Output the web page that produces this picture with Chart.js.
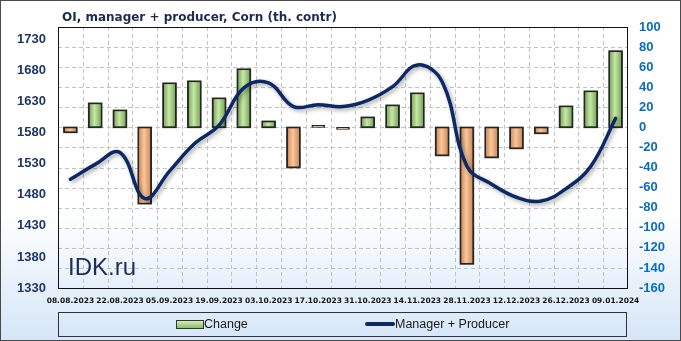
<!DOCTYPE html>
<html>
<head>
<meta charset="utf-8">
<title>OI, manager + producer, Corn (th. contr)</title>
<script src="https://cdn.jsdelivr.net/npm/chart.js@4/dist/chart.umd.min.js"></script>
<style>
    html, body { margin: 0; padding: 0; background: #ffffff; }
    #wrap {
        position: relative;
        width: 681px;
        height: 341px;
        overflow: hidden;
        background: linear-gradient(to bottom, #ffffff 0%, #ffffff 62%, #d5e6f8 100%);
    }
    #chart_corn { position: absolute; left: 0; top: 0; }
    #frame {
        position: absolute; left: 0; top: 0;
        width: 679px; height: 339px;
        border: 1px solid #4a4a4a;
        pointer-events: none;
    }
    #title {
        position: absolute; left: 62px; top: 9px;
        font: bold 12px "DejaVu Sans", sans-serif;
        line-height: 16px;
        color: #1b2b52;
        white-space: nowrap;
    }
    #watermark {
        position: absolute; left: 68px; top: 255px;
        font: 24px "Liberation Sans", sans-serif;
        line-height: 24px;
        color: #1c2d57;
    }
    #legend {
        position: absolute; left: 58px; top: 312px;
        width: 567px; height: 23px;
        border: 1px solid #333333;
        font: 12.5px "Liberation Sans", sans-serif;
        color: #1a1a1a;
    }
    #legend .sw_bar {
        position: absolute; left: 117px; top: 7px;
        width: 26px; height: 7px;
        border: 1px solid #333333;
        background: linear-gradient(to bottom, #d3ecb9, #8dbb6b);
    }
    #legend .sw_line {
        position: absolute; left: 306px; top: 9px;
        width: 30px; height: 4px;
        border-radius: 2px;
        background: #0c2866;
    }
    #legend .txt { position: absolute; top: 0; line-height: 22px; white-space: nowrap; }
</style>
</head>
<body>
<div id="wrap">
    <canvas id="chart_corn" width="681" height="341"></canvas>
    <div id="title">OI, manager + producer, Corn (th. contr)</div>
    <div id="watermark">IDK.ru</div>
    <div id="legend">
        <span class="sw_bar"></span><span class="txt" style="left:145px">Change</span>
        <span class="sw_line"></span><span class="txt" style="left:336px">Manager + Producer</span>
    </div>
    <div id="frame"></div>
</div>
<script>
const report_dates = [
    '08.08.2023', '15.08.2023', '22.08.2023', '29.08.2023', '05.09.2023', '12.09.2023',
    '19.09.2023', '26.09.2023', '03.10.2023', '10.10.2023', '17.10.2023', '24.10.2023',
    '31.10.2023', '07.11.2023', '14.11.2023', '21.11.2023', '28.11.2023', '05.12.2023',
    '12.12.2023', '19.12.2023', '26.12.2023', '02.01.2024', '09.01.2024',
];

// weekly change, th. contracts (right axis)
const change_values = [-5, 24, 17, -76, 44, 46, 29, 58, 6, -40, 2, -2, 10, 22, 34, -28, -136, -30, -21, -6, 21, 36, 76];

// open interest, manager + producer (left axis)
const manager_producer = [1505, 1529, 1548, 1474, 1518, 1562, 1592, 1652, 1660, 1622, 1625, 1622, 1632, 1654, 1689, 1662, 1526, 1497, 1476, 1470, 1490, 1526, 1603];

const left_ticks = [1330, 1380, 1430, 1480, 1530, 1580, 1630, 1680, 1730];
const left_range = [1330, 1750];
const right_range = [-160, 100];

const bar_colors = {
    up: { fill: '#a9d48a', edge: '#74a253', mid: '#c6e8a6' },
    down: { fill: '#f4b183', edge: '#c98553', mid: '#fac79c' },
};

function pick_bar_color(ctx) {
    return ctx.raw >= 0 ? bar_colors.up.fill : bar_colors.down.fill;
}

// dashed grid, frame round the plot area, soft shadow under the marks
const frame_and_shadow = {
    id: 'frame_and_shadow',
    beforeDatasetsDraw(chart) {
        const { ctx, chartArea } = chart;
        const x_scale = chart.scales.x;
        const y1_scale = chart.scales.y1;

        ctx.save();
        ctx.strokeStyle = '#c2c2c2';
        ctx.lineWidth = 1;
        ctx.setLineDash([4, 3]);
        ctx.beginPath();
        y1_scale.ticks.forEach((t) => {
            const y = Math.round(y1_scale.getPixelForValue(t.value)) + 0.5;
            if (y > chartArea.top + 1 && y < chartArea.bottom - 1) {
                ctx.moveTo(chartArea.left, y);
                ctx.lineTo(chartArea.right, y);
            }
        });
        for (let i = 0; i < report_dates.length - 1; i++) {
            const x = Math.round((x_scale.getPixelForTick(i) + x_scale.getPixelForTick(i + 1)) / 2) + 0.5;
            ctx.moveTo(x, chartArea.top);
            ctx.lineTo(x, chartArea.bottom);
        }
        ctx.stroke();

        ctx.setLineDash([]);
        ctx.strokeStyle = '#111111';
        ctx.strokeRect(chartArea.left + 0.5, chartArea.top + 0.5,
            chartArea.right - chartArea.left - 1, chartArea.bottom - chartArea.top);
        ctx.restore();

        ctx.shadowColor = 'rgba(0, 0, 0, 0.35)';
        ctx.shadowBlur = 4;
        ctx.shadowOffsetX = 2;
        ctx.shadowOffsetY = 2;
    },
    afterDatasetDraw(chart, args) {
        if (args.index !== 0) {
            return;
        }
        const ctx = chart.ctx;
        const meta = chart.getDatasetMeta(0);
        ctx.save();
        ctx.shadowColor = 'rgba(0, 0, 0, 0)';
        meta.data.forEach((el, i) => {
            const p = el.getProps(['x', 'y', 'base', 'width'], true);
            const top = Math.min(p.y, p.base);
            const h = Math.abs(p.base - p.y);
            if (h < 4) {
                return;
            }
            const c = change_values[i] >= 0 ? bar_colors.up : bar_colors.down;
            const left = p.x - p.width / 2;
            const grad = ctx.createLinearGradient(left, 0, left + p.width, 0);
            grad.addColorStop(0, c.edge);
            grad.addColorStop(0.45, c.mid);
            grad.addColorStop(1, c.edge);
            ctx.fillStyle = grad;
            ctx.fillRect(left + 1, top + 1, p.width - 2, h - 2);
            ctx.strokeStyle = '#262626';
            ctx.lineWidth = 1.5;
            ctx.strokeRect(left, top, p.width, h);
        });
        ctx.restore();
    },
    afterDatasetsDraw(chart) {
        const ctx = chart.ctx;
        ctx.shadowColor = 'rgba(0, 0, 0, 0)';
        ctx.shadowBlur = 0;
        ctx.shadowOffsetX = 0;
        ctx.shadowOffsetY = 0;
    },
};

function build_corn_chart() {
    const canvas = document.getElementById('chart_corn');
    const ctx = canvas.getContext('2d');

    return new Chart(ctx, {
        type: 'bar',
        data: {
            labels: report_dates,
            datasets: [
                {
                    type: 'bar',
                    label: 'Change',
                    data: change_values,
                    yAxisID: 'y1',
                    backgroundColor: pick_bar_color,
                    borderColor: '#262626',
                    borderWidth: 1.5,
                    borderSkipped: false,
                    barThickness: 13,
                    order: 1,
                },
                {
                    type: 'line',
                    label: 'Manager + Producer',
                    data: manager_producer,
                    yAxisID: 'y',
                    borderColor: '#0c2866',
                    borderWidth: 3.5,
                    borderCapStyle: 'round',
                    tension: 0.4,
                    pointRadius: 0,
                    fill: false,
                    order: 0,
                },
            ],
        },
        options: {
            responsive: false,
            devicePixelRatio: 1,
            animation: false,
            layout: {
                padding: { top: 27, bottom: 33, left: 0, right: 0 },
            },
            plugins: {
                legend: { display: false },
                title: { display: false },
                tooltip: { enabled: false },
            },
            scales: {
                x: {
                    offset: true,
                    grid: { display: false, drawTicks: false },
                    border: { display: false },
                    ticks: {
                        autoSkip: false,
                        maxRotation: 0,
                        minRotation: 0,
                        padding: 9,
                        color: '#151515',
                        font: { family: 'DejaVu Sans', size: 7.5, weight: 'bold' },
                        callback: function (value, index) {
                            return index % 2 === 0 ? this.getLabelForValue(value) : '';
                        },
                    },
                    afterFit: (scale) => { scale.height = 20; },
                },
                y: {
                    position: 'left',
                    min: left_range[0],
                    max: left_range[1],
                    grid: { display: false, drawTicks: false },
                    border: { display: false },
                    ticks: {
                        padding: 12,
                        color: '#1f3768',
                        font: { family: 'Liberation Sans', size: 13, weight: 'bold' },
                        callback: (value) => String(value),
                    },
                    afterBuildTicks: (scale) => {
                        scale.ticks = left_ticks.map((v) => ({ value: v }));
                    },
                    afterFit: (scale) => { scale.width = 58; },
                },
                y1: {
                    position: 'right',
                    min: right_range[0],
                    max: right_range[1],
                    grid: { display: false, drawTicks: false },
                    border: { display: false },
                    ticks: {
                        stepSize: 20,
                        padding: 11,
                        color: '#0a6cc0',
                        font: { family: 'Liberation Sans', size: 13, weight: 'bold' },
                        callback: (value) => String(value),
                    },
                    afterFit: (scale) => { scale.width = 53; },
                },
            },
        },
        plugins: [frame_and_shadow],
    });
}

build_corn_chart();
</script>
</body>
</html>
